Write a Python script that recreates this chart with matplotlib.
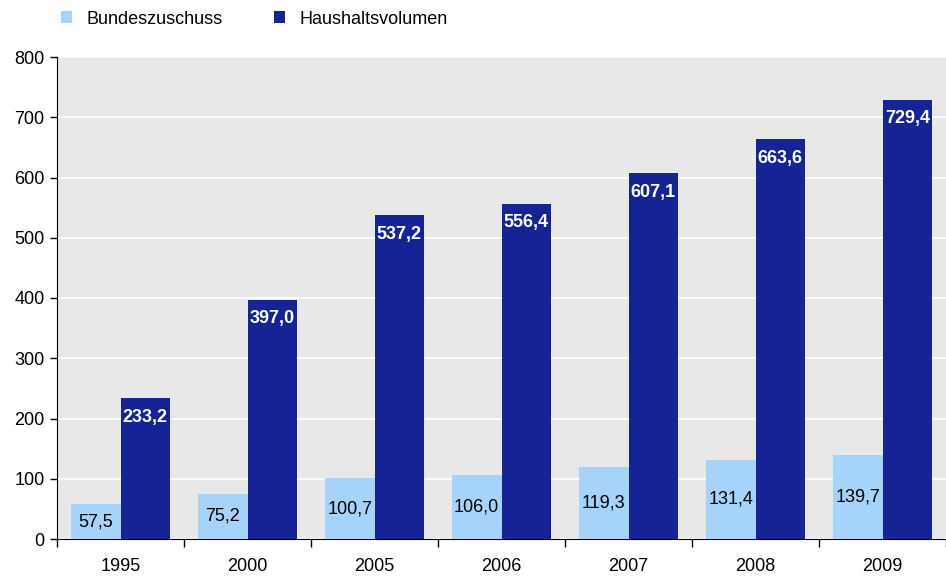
import matplotlib
matplotlib.use("Agg")
import matplotlib.pyplot as plt
import numpy as np

years = ["1995", "2000", "2005", "2006", "2007", "2008", "2009"]
bundeszuschuss = [57.5, 75.2, 100.7, 106.0, 119.3, 131.4, 139.7]
haushaltsvolumen = [233.2, 397.0, 537.2, 556.4, 607.1, 663.6, 729.4]

light = "#A6D3FA"
dark = "#162394"

plt.rcParams['font.family'] = ['Liberation Sans', 'DejaVu Sans']
fig = plt.figure(figsize=(9.46, 5.79), dpi=100)
W, H = 946, 579
ax = fig.add_axes([57 / W, 40 / H, (946 - 57) / W, (539 - 57) / H])
ax.set_facecolor("#E8E8E8")

x = np.arange(len(years))
bw = 0.39
ax.bar(x - bw / 2, bundeszuschuss, bw, color=light, label="Bundeszuschuss", zorder=3)
ax.bar(x + bw / 2, haushaltsvolumen, bw, color=dark, label="Haushaltsvolumen", zorder=3)

def fmt(v):
    return f"{v:.1f}".replace(".", ",")

FS = 13
for xi, v in zip(x, bundeszuschuss):
    ax.text(xi - bw / 2, v / 2, fmt(v), ha="center", va="center", fontsize=FS, color="black", zorder=4)
for xi, v in zip(x, haushaltsvolumen):
    ax.annotate(fmt(v), (xi + bw / 2, v), xytext=(0, -19), textcoords="offset pixels",
                ha="center", va="center", fontsize=FS, color="white", fontweight="bold", zorder=4)

ax.set_ylim(0, 800)
ax.set_xlim(-0.5, len(years) - 0.5)
ax.set_yticks(range(0, 801, 100))
ax.yaxis.grid(True, color="white", linewidth=1.2, zorder=1)
ax.set_axisbelow(True)

ax.set_xticks(x)
ax.set_xticklabels(years)
ax.set_xticks(np.arange(-0.5, len(years) - 0.4, 1), minor=True)
ax.tick_params(axis="x", which="major", length=0, pad=14, labelsize=FS)
ax.tick_params(axis="x", which="minor", length=6, width=1, color="black")
ax.tick_params(axis="y", length=5, width=1, labelsize=FS, pad=4)

for s in ["top", "right"]:
    ax.spines[s].set_visible(False)
ax.spines["left"].set_color("black")
ax.spines["bottom"].set_color("black")

ax.legend(loc="upper left", bbox_to_anchor=(48 / W, 1.0 + 2 / H), bbox_transform=fig.transFigure,
          ncol=2, frameon=False, fontsize=FS, handlelength=0.65, handleheight=0.65,
          columnspacing=2.8, handletextpad=0.8, borderaxespad=0.3)

fig.savefig("out.png", dpi=100)
